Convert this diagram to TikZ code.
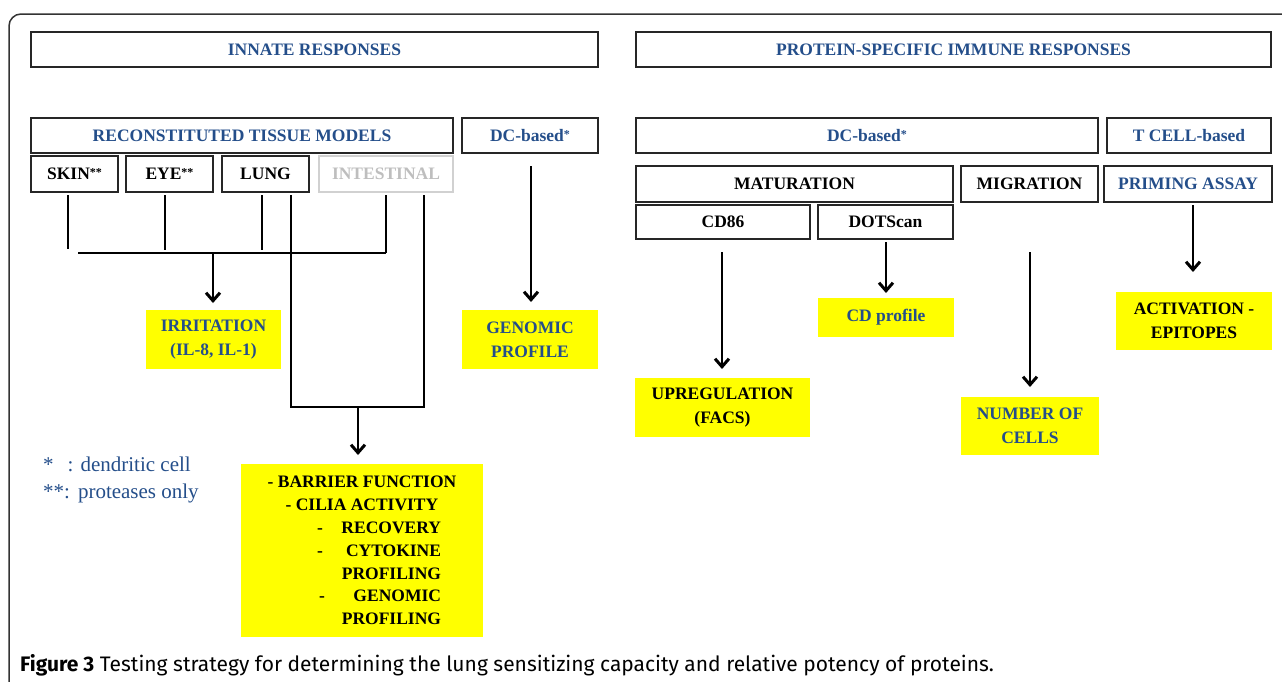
\documentclass[tikz,border=0pt]{standalone}
\usepackage{fontspec}
\setmainfont{Liberation Serif}
\newfontfamily\capfont{Fira Sans}
\usetikzlibrary{arrows.meta}
\definecolor{hblue}{RGB}{36,78,138}
\definecolor{hyel}{RGB}{255,255,0}
\definecolor{lgray}{RGB}{190,190,190}
\newcommand{\sast}[1]{\raisebox{3pt}{\fontsize{12}{12}\selectfont #1}}
\tikzset{
  box/.style={draw=black!85, line width=1.4pt, inner sep=0pt, outer sep=0pt,
    font=\fontsize{17.5}{23}\selectfont\bfseries, align=center},
  ybox/.style={fill=hyel, draw=none, inner sep=0pt, outer sep=0pt,
    font=\fontsize{17.5}{24}\selectfont\bfseries, align=center},
  bl/.style={text=hblue},
  conn/.style={line width=1.3pt, draw=black},
  arr/.style={line width=2.7pt, draw=black, -{Straight Barb[length=8pt,width=14pt,line width=3pt]}},
}
\begin{document}
\begin{tikzpicture}[x=1pt,y=-1pt]
\useasboundingbox (0,0) rectangle (1282,681);
\begin{scope}
\clip (0,0) rectangle (1282,681);
\draw[line width=1.5pt, black!80, rounded corners=12pt] (9,14) rectangle (1310,710);
\end{scope}

% headers
\node[box, bl, minimum width=567pt, minimum height=35pt] (innate) at (314.5,49.5) {INNATE RESPONSES};
\node[box, bl, minimum width=635pt, minimum height=35pt] (protein) at (953.5,49.5) {PROTEIN-SPECIFIC IMMUNE RESPONSES};

\node[box, bl, minimum width=422pt, minimum height=35pt] (rtm) at (242,135.5) {RECONSTITUTED TISSUE MODELS};
\node[box, bl, minimum width=136pt, minimum height=35pt] (dcl) at (530,135.5) {DC-based\sast{*}};
\node[box, bl, minimum width=462pt, minimum height=35pt] (dcr) at (867,135.5) {DC-based\sast{*}};
\node[box, bl, minimum width=164pt, minimum height=35pt] (tcell) at (1189,135.5) {T CELL-based};

\node[box, minimum width=87pt, minimum height=36pt] (skin) at (74.5,174) {SKIN\sast{**}};
\node[box, minimum width=87pt, minimum height=36pt] (eye) at (169.5,174) {EYE\sast{**}};
\node[box, minimum width=87pt, minimum height=36pt] (lung) at (265.5,174) {LUNG};
\node[box, draw=lgray!70, text=lgray, minimum width=134pt, minimum height=36pt] (intest) at (386,174) {INTESTINAL};

\node[box, minimum width=317pt, minimum height=36pt] (mat) at (794.5,184) {MATURATION};
\node[box, minimum width=137pt, minimum height=36pt] (mig) at (1029.5,184) {MIGRATION};
\node[box, bl, minimum width=168pt, minimum height=36pt] (prim) at (1188,184) {PRIMING ASSAY};
\node[box, minimum width=174pt, minimum height=34pt] (cd86) at (723,222) {CD86};
\node[box, minimum width=135pt, minimum height=34pt] (dots) at (885.5,222) {DOTScan};

% result boxes
\node[ybox, bl, minimum width=135pt, minimum height=59pt] (irr) at (213.5,339.5) {IRRITATION\\(IL-8, IL-1)};
\node[ybox, bl, minimum width=136pt, minimum height=59pt] (gen) at (530,339.5) {GENOMIC\\PROFILE};
\node[ybox, bl, minimum width=136pt, minimum height=39pt] (cdp) at (886,317.5) {CD profile};
\node[ybox, minimum width=156pt, minimum height=58pt] (act) at (1194,321) {ACTIVATION -\\EPITOPES};
\node[ybox, minimum width=175pt, minimum height=59pt] (upr) at (722.5,407.5) {UPREGULATION\\(FACS)};
\node[ybox, bl, minimum width=138pt, minimum height=58pt] (noc) at (1030,426) {NUMBER OF\\CELLS};
\node[ybox, minimum width=242pt, minimum height=173pt, font=\fontsize{17.5}{22.8}\selectfont\bfseries] (bf) at (362,550.5)
 {\makebox[186pt][c]{- BARRIER FUNCTION}\\
  \makebox[186pt][c]{- CILIA ACTIVITY}\\
  \makebox[186pt][l]{\hspace{48pt}-\hfill RECOVERY\hspace{14pt}}\\
  \makebox[186pt][l]{\hspace{48pt}-\hfill CYTOKINE\hspace{14pt}}\\
  \makebox[186pt][r]{PROFILING\hspace{14pt}}\\
  \makebox[186pt][l]{\hspace{50pt}-\hfill GENOMIC\hspace{14pt}}\\
  \makebox[186pt][r]{PROFILING\hspace{14pt}}};

% legend and caption
\node[anchor=west, text=hblue, inner sep=0pt, align=left, font=\fontsize{21}{27}\selectfont] (leg) at (43,480)
 {*\hspace{14pt}: dendritic cell\\**:\hspace{8pt}proteases only};
\node[anchor=base west, inner sep=0pt, font=\capfont\fontsize{21}{24}\selectfont] (cap) at (20,671)
 {\textbf{Figure 3} Testing strategy for determining the lung sensitizing capacity and relative potency of proteins.};

% connector coordinates
\coordinate (xsk) at (68,249);
\coordinate (xey) at (165,250);
\coordinate (xlu) at (262,250);
\coordinate (xin) at (386,253);
\coordinate (busL) at (78,253);
\coordinate (busA) at (213,253);
\coordinate (lj) at (291,407);
\coordinate (ij) at (424,407);
\coordinate (ja) at (358,407);
\coordinate (xdc) at (531,0);
\coordinate (xcd) at (722,0);
\coordinate (xdo) at (886,0);
\coordinate (xmi) at (1030,0);
\coordinate (xpr) at (1193,0);

% connectors
\draw[conn, shorten <=3pt] (skin.south -| xsk) -- (xsk);
\draw[conn, shorten <=3pt] (eye.south -| xey) -- (xey);
\draw[conn, shorten <=3pt] (lung.south -| xlu) -- (xlu);
\draw[conn, shorten <=3pt] (intest.south -| xin) -- (xin);
\draw[conn] (busL) -- (xin);
\draw[arr, shorten >=7pt] (busA) -- (irr.north -| busA);
\draw[conn, shorten <=3pt, shorten >=3pt] (lung.south -| lj) -- (lj) -- (ij) -- (intest.south -| ij);
\draw[arr, shorten >=9pt] (ja) -- (bf.north -| ja);
\draw[arr, shorten <=13pt, shorten >=8pt] (dcl.south -| xdc) -- (gen.north -| xdc);
\draw[arr, shorten <=13pt, shorten >=9pt] (cd86.south -| xcd) -- (upr.north -| xcd);
\draw[arr, shorten <=3pt, shorten >=5pt] (dots.south -| xdo) -- (cdp.north -| xdo);
\draw[arr, shorten <=50pt, shorten >=10pt] (mig.south -| xmi) -- (noc.north -| xmi);
\draw[arr, shorten <=3pt, shorten >=20pt] (prim.south -| xpr) -- (act.north -| xpr);
\end{tikzpicture}
\end{document}
